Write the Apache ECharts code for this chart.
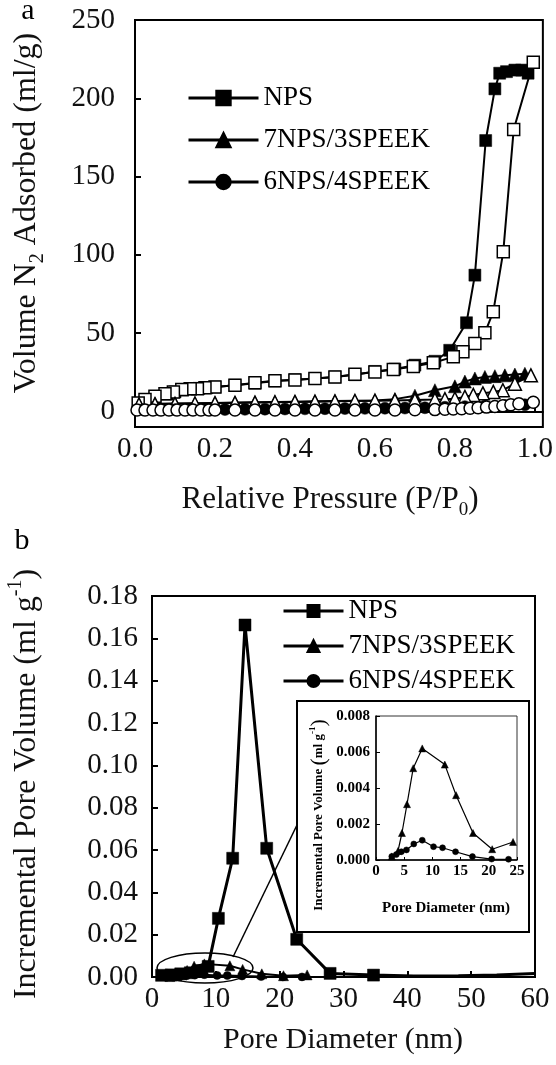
<!DOCTYPE html>
<html>
<head>
<meta charset="utf-8">
<script src="https://cdn.jsdelivr.net/npm/echarts@6/dist/echarts.min.js"></script>
<style>
html, body { margin: 0; padding: 0; background: #fff; }
#chart { width: 556px; height: 1065px; }
</style>
</head>
<body>
<div id="chart"></div>
<script>
// ---- panel a : N2 isotherms (relative pressure vs volume adsorbed) ----
var npsAdsP = [0.01, 0.03, 0.05, 0.08, 0.1, 0.12, 0.14, 0.16, 0.18, 0.2, 0.25, 0.3, 0.35, 0.4, 0.45, 0.5, 0.55, 0.6, 0.65, 0.7, 0.75, 0.787, 0.829, 0.85, 0.877, 0.9, 0.912, 0.929, 0.95, 0.967, 0.983];
var npsAdsV = [5, 7.5, 9.5, 11, 12.4, 13.6, 14.3, 14.7, 15.1, 15.6, 16.7, 18, 19.4, 20.2, 21, 22, 23.4, 25.5, 27, 29.5, 32, 39, 56.6, 87, 173, 206, 216, 217, 218, 218, 216];
var npsDesP = [0.996, 0.947, 0.921, 0.896, 0.875, 0.85, 0.82, 0.796, 0.746, 0.696, 0.646, 0.6, 0.55, 0.5, 0.45, 0.4, 0.35, 0.3, 0.25, 0.2, 0.175, 0.156, 0.138, 0.117, 0.096, 0.075, 0.05, 0.025, 0.008];
var npsDesV = [223, 180, 102, 63.7, 50.2, 43.4, 38, 34.8, 31, 28.6, 26.7, 25.2, 23.7, 22, 21, 20, 19.5, 18.2, 16.7, 15.6, 15, 14.5, 14.5, 13.9, 12.4, 11.3, 9.6, 7.5, 5.3];

var s73AdsP = [0.01, 0.05, 0.1, 0.15, 0.2, 0.25, 0.3, 0.35, 0.4, 0.45, 0.5, 0.55, 0.6, 0.65, 0.7, 0.75, 0.8, 0.825, 0.85, 0.875, 0.9, 0.925, 0.95, 0.975];
var s73AdsV = [4.5, 4.8, 5, 5.2, 5.4, 5.6, 5.8, 6, 6.2, 6.4, 6.6, 6.8, 7, 7.8, 10, 13.5, 16, 19, 21, 22, 22.5, 23, 23.5, 24];
var s73DesP = [0.99, 0.95, 0.92, 0.896, 0.87, 0.846, 0.825, 0.8, 0.775, 0.75, 0.7, 0.65, 0.6, 0.55, 0.5, 0.45, 0.4, 0.35, 0.3, 0.25, 0.2, 0.15, 0.1, 0.05, 0.01];
var s73DesV = [23, 17.7, 13.5, 12.4, 11.5, 10.5, 9.2, 8.1, 7.8, 7.6, 7.3, 7, 6.8, 6.6, 6.4, 6.2, 6, 5.8, 5.6, 5.4, 5.2, 5, 4.8, 4.6, 4.4];

var s64AdsP = [0.02, 0.06, 0.1, 0.14, 0.18, 0.225, 0.275, 0.325, 0.375, 0.425, 0.475, 0.525, 0.575, 0.625, 0.675, 0.725, 0.775, 0.825, 0.875, 0.925, 0.975];
var s64AdsV = [1, 1, 1, 1.1, 1.1, 1.2, 1.3, 1.4, 1.5, 1.6, 1.7, 1.8, 1.9, 2, 2.1, 2.3, 2.6, 3, 3.4, 3.8, 4.2];
var s64DesP = [0.005, 0.025, 0.045, 0.065, 0.085, 0.105, 0.125, 0.145, 0.165, 0.185, 0.2, 0.25, 0.3, 0.35, 0.4, 0.45, 0.5, 0.55, 0.6, 0.65, 0.7, 0.75, 0.775, 0.796, 0.817, 0.838, 0.858, 0.879, 0.9, 0.92, 0.94, 0.96, 0.996];
var s64DesV = [0.8, 0.8, 0.8, 0.8, 0.8, 0.8, 0.8, 0.8, 0.8, 0.8, 0.8, 0.8, 0.8, 0.8, 0.8, 0.8, 0.8, 0.8, 0.9, 0.9, 1, 1.1, 1.3, 1.5, 1.7, 2, 2.3, 2.7, 3.1, 3.6, 4.2, 4.8, 5.8];

var xTicksA = [0, 0.2, 0.4, 0.6, 0.8, 1.0];
var yTicksA = [0, 50, 100, 150, 200, 250];

// ---- panel b : pore size distribution ----
var npsD = [1.5, 3, 4.5, 6, 7.5, 8.8, 10.4, 12.64, 14.57, 17.97, 22.67, 27.9, 34.7];
var npsPV = [0.0008, 0.001, 0.0015, 0.002, 0.003, 0.005, 0.0277, 0.0561, 0.1663, 0.0608, 0.0178, 0.0017, 0.0009];
var npsTailD = [41, 48, 54, 60];
var npsTailPV = [0.0005, 0.0006, 0.001, 0.0016];

var s73D = [2.8, 3.9, 4.6, 5.5, 6.6, 8.2, 12.2, 14.2, 17.2, 20.6, 24.3];
var s73PV = [0.0002, 0.0005, 0.0015, 0.0031, 0.0051, 0.0062, 0.0053, 0.0036, 0.0015, 0.0006, 0.001];
var s64D = [2.8, 3.6, 4.5, 5.4, 6.7, 8.2, 10.2, 11.8, 14.1, 17.1, 20.5, 23.5];
var s64PV = [0.0002, 0.0003, 0.00046, 0.00056, 0.00089, 0.0011, 0.00074, 0.00068, 0.00046, 0.00019, 0.00005, 0.00004];

var names = ['NPS', '7NPS/3SPEEK', '6NPS/4SPEEK'];

var SERIF = 'Liberation Serif';

function pairs(xs, ys) {
  return xs.map(function (x, i) { return [x, ys[i]]; });
}

function mk(name, idx, data, sym, size, filled, lw, z) {
  return {
    type: 'line', name: name, xAxisIndex: idx, yAxisIndex: idx, z: z || 2,
    data: data, symbol: sym, symbolSize: size, showAllSymbol: true,
    itemStyle: { color: filled ? '#000' : '#fff', borderColor: '#000', borderWidth: filled ? 0.5 : 1.5 },
    lineStyle: { color: '#000', width: lw },
    emphasis: { disabled: true }
  };
}

function axisX(idx, o) {
  return Object.assign({
    type: 'value', gridIndex: idx, splitLine: { show: false },
    axisLine: { lineStyle: { color: '#000', width: 2 } },
    axisTick: { inside: true, length: 6, lineStyle: { color: '#000', width: 2 } },
    axisLabel: { fontFamily: SERIF, fontSize: 29, color: '#111', margin: 8 }
  }, o);
}

var npsTail = npsTailD.map(function (d, i) { return { value: [d, npsTailPV[i]], symbol: 'none' }; });

var series = [
  // panel a
  mk(names[0], 0, pairs(npsAdsP, npsAdsV), 'rect', 12, true, 2),
  mk(names[0], 0, pairs(npsDesP, npsDesV), 'rect', 12, false, 2),
  mk(names[1], 0, pairs(s73AdsP, s73AdsV), 'triangle', 13, true, 2),
  mk(names[1], 0, pairs(s73DesP, s73DesV), 'triangle', 13, false, 2),
  mk(names[2], 0, pairs(s64AdsP, s64AdsV), 'circle', 12, true, 2),
  mk(names[2], 0, pairs(s64DesP, s64DesV), 'circle', 12, false, 2),
  // panel b
  mk(names[0], 1, pairs(npsD, npsPV).concat(npsTail), 'rect', 12, true, 3),
  mk(names[1], 1, pairs(s73D, s73PV), 'triangle', 10, true, 2),
  mk(names[2], 1, pairs(s64D, s64PV), 'circle', 8, true, 2),
  // inset
  mk('ins73', 2, pairs(s73D, s73PV), 'triangle', 7, true, 1.2, 6),
  mk('ins64', 2, pairs(s64D, s64PV), 'circle', 6, true, 1.2, 6)
];

var legendCommon = {
  orient: 'vertical', padding: 0, selectedMode: false, data: names,
  textStyle: { fontFamily: SERIF, fontSize: 27, color: '#000', lineHeight: 28 },
  lineStyle: { width: 3 }
};

var boldLbl = { fontFamily: SERIF, fontSize: 15, fontWeight: 'bold', color: '#000' };

var option = {
  animation: false,
  backgroundColor: '#fff',
  textStyle: { fontFamily: SERIF },
  grid: [
    { left: 135, top: 20, width: 408, height: 407, show: true, borderColor: '#000', borderWidth: 2 },
    { left: 152, top: 596, width: 383, height: 381, show: true, borderColor: '#000', borderWidth: 2 },
    { left: 376, top: 716, width: 141, height: 144, show: true, borderColor: '#333', borderWidth: 1, backgroundColor: '#fff', z: 4 }
  ],
  xAxis: [
    axisX(0, { min: 0, max: 1.02,
      axisTick: { inside: true, length: 6, lineStyle: { color: '#000', width: 2 }, customValues: xTicksA },
      axisLabel: { fontFamily: SERIF, fontSize: 29, color: '#111', margin: 8, customValues: xTicksA,
        formatter: function (v) { return v.toFixed(1); } } }),
    axisX(1, { min: 0, max: 60, interval: 10 }),
    axisX(2, { min: 0, max: 25, interval: 5, z: 4,
      axisLine: { lineStyle: { color: '#000', width: 1.5 } },
      axisTick: { inside: true, length: 3, lineStyle: { color: '#000', width: 1 } },
      axisLabel: Object.assign({ margin: 4 }, boldLbl) })
  ],
  yAxis: [
    axisX(0, { min: -10, max: 250,
      axisTick: { inside: true, length: 6, lineStyle: { color: '#000', width: 2 }, customValues: yTicksA },
      axisLabel: { fontFamily: SERIF, fontSize: 29, color: '#111', margin: 20, customValues: yTicksA } }),
    axisX(1, { min: 0, max: 0.18, interval: 0.02,
      axisLabel: { fontFamily: SERIF, fontSize: 29, color: '#111', margin: 14,
        formatter: function (v) { return v.toFixed(2); } } }),
    axisX(2, { min: 0, max: 0.008, interval: 0.002, z: 4,
      axisLine: { lineStyle: { color: '#000', width: 1.5 } },
      axisTick: { inside: true, length: 4, lineStyle: { color: '#000', width: 1 } },
      axisLabel: Object.assign({ margin: 6, formatter: function (v) { return v.toFixed(3); } }, boldLbl) })
  ],
  legend: [
    Object.assign({ left: 187, top: 84, itemWidth: 70, itemHeight: 18, itemGap: 14 }, legendCommon),
    Object.assign({ left: 282, top: 597, itemWidth: 60, itemHeight: 15, itemGap: 7 }, legendCommon)
  ],
  series: series,
  graphic: [
    // inset frame
    { type: 'rect', z: 3, shape: { x: 297, y: 701, width: 232, height: 231 },
      style: { fill: '#fff', stroke: '#000', lineWidth: 2 } },
    // zoom ellipse + connector
    { type: 'ellipse', z: 10, shape: { cx: 205, cy: 968, rx: 48, ry: 15 },
      style: { fill: 'none', stroke: '#000', lineWidth: 1.5 } },
    { type: 'line', z: 10, shape: { x1: 233, y1: 957, x2: 297, y2: 825 },
      style: { stroke: '#000', lineWidth: 1.5 } },
    // panel letters
    { type: 'text', x: 28, y: 11, style: { text: 'a', font: '30px "Liberation Serif"', fill: '#000', align: 'center', verticalAlign: 'middle' } },
    { type: 'text', x: 22, y: 541, style: { text: 'b', font: '30px "Liberation Serif"', fill: '#000', align: 'center', verticalAlign: 'middle' } },
    // axis titles
    { type: 'text', x: 330, y: 500, style: { text: '{m|Relative Pressure (P/P}{s|0}{m|)}', align: 'center', verticalAlign: 'middle',
      rich: { m: { fontFamily: SERIF, fontSize: 31, lineHeight: 40, fill: '#111' },
              s: { fontFamily: SERIF, fontSize: 19, lineHeight: 18, verticalAlign: 'bottom', fill: '#111' } } } },
    { type: 'text', x: 27, y: 213, rotation: Math.PI / 2, style: { text: '{m|Volume N}{s|2}{m| Adsorbed (ml/g)}', align: 'center', verticalAlign: 'middle',
      rich: { m: { fontFamily: SERIF, fontSize: 32, lineHeight: 42, fill: '#111' },
              s: { fontFamily: SERIF, fontSize: 20, lineHeight: 22, verticalAlign: 'bottom', fill: '#111' } } } },
    { type: 'text', x: 343, y: 1040, style: { text: 'Pore Diameter (nm)', font: '30px "Liberation Serif"', fill: '#111', align: 'center', verticalAlign: 'middle' } },
    { type: 'text', x: 27, y: 784, rotation: Math.PI / 2, style: { text: '{m|Incremental Pore Volume (ml g}{p|-1}{m|)}', align: 'center', verticalAlign: 'middle',
      rich: { m: { fontFamily: SERIF, fontSize: 32, lineHeight: 42, fill: '#111' },
              p: { fontFamily: SERIF, fontSize: 20, lineHeight: 16, verticalAlign: 'top', fill: '#111' } } } },
    { type: 'text', z: 6, x: 446, y: 908, style: { text: 'Pore Diameter (nm)', font: 'bold 15px "Liberation Serif"', fill: '#000', align: 'center', verticalAlign: 'middle' } },
    { type: 'text', z: 6, x: 319, y: 815, rotation: Math.PI / 2, style: { text: '{m|Incremental Pore Volume }{b|(}{m|ml g}{p|-1}{b|)}', align: 'center', verticalAlign: 'middle',
      rich: { m: { fontFamily: SERIF, fontSize: 13, fontWeight: 'bold', lineHeight: 20, fill: '#000' },
              b: { fontFamily: SERIF, fontSize: 22, lineHeight: 22, fill: '#000' },
              p: { fontFamily: SERIF, fontSize: 9, fontWeight: 'bold', lineHeight: 10, verticalAlign: 'top', fill: '#000' } } } }
  ]
};

var chart = echarts.init(document.getElementById('chart'), null, { renderer: 'canvas' });
chart.setOption(option);
</script>
</body>
</html>
